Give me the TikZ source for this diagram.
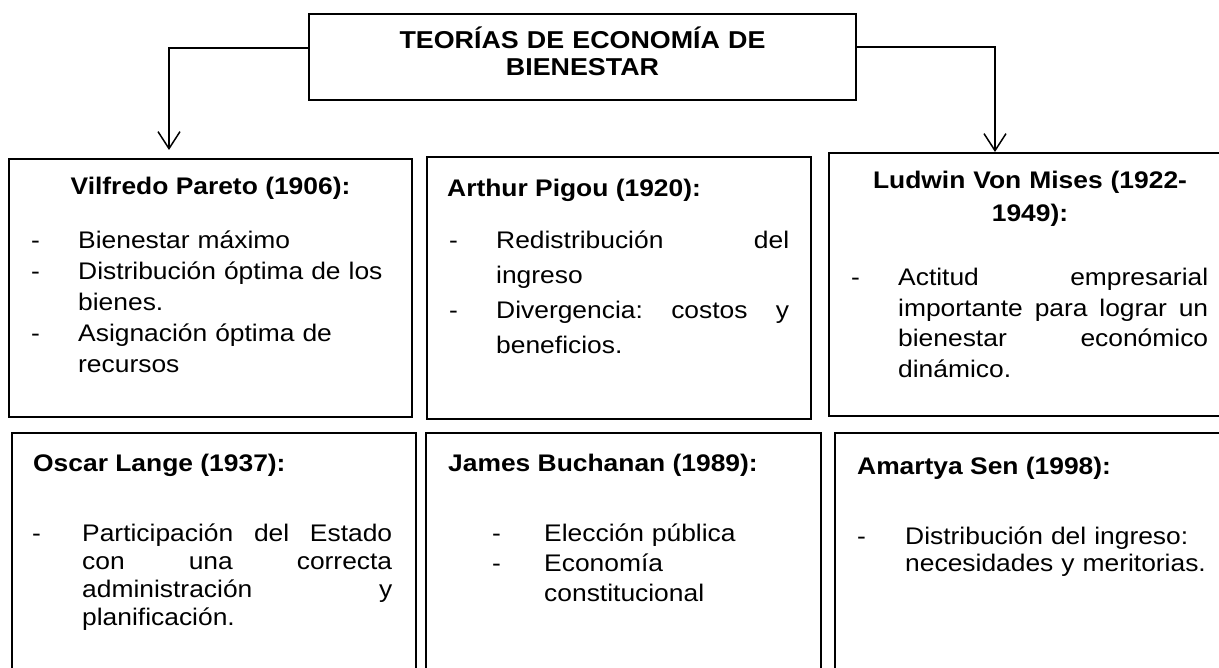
\documentclass[tikz,border=0pt]{standalone}
\usepackage{fontspec}
\setmainfont{Liberation Sans}[FakeStretch=1.1]
\usetikzlibrary{arrows.meta}
\begin{document}
\begin{tikzpicture}[x=1pt,y=-1pt,
  frame/.style={draw, line width=1.7pt, inner sep=0pt, rectangle},
  conn/.style={line width=1.5pt, -{Straight Barb[length=17pt,width=22pt,line width=1.5pt]}},
  head/.style={inner sep=0pt, font=\bfseries\fontsize{24}{33}\selectfont},
  body/.style={inner sep=0pt, anchor=base west, align=left},
  dashn/.style={inner sep=0pt, anchor=base west, font=\fontsize{24}{26}\selectfont}]
\useasboundingbox (0,0) rectangle (1219,668);
\clip (0,0) rectangle (1219,668);
% title
\node[frame, minimum width=547pt, minimum height=86pt] (title) at (582.5,57) {};
\node[inner sep=0pt, anchor=base, text width=520pt, align=center,
      font=\bfseries\fontsize{24.4}{27}\selectfont] (titletxt) at (582.5,49)
  {TEORÍAS DE ECONOMÍA DE\\BIENESTAR};
% boxes
\node[frame, minimum width=403pt, minimum height=258pt] (pareto) at (210.5,288) {};
\node[frame, minimum width=384pt, minimum height=262pt] (pigou) at (619,288) {};
\node[frame, minimum width=403pt, minimum height=263pt] (mises) at (1030.5,284.5) {};
\node[frame, minimum width=404pt, minimum height=267pt] (lange) at (214,566.5) {};
\node[frame, minimum width=395pt, minimum height=267pt] (buchanan) at (623.5,566.5) {};
\node[frame, minimum width=405pt, minimum height=267pt] (sen) at (1037.5,566.5) {};
% connectors
\coordinate (lt) at (169,150);
\coordinate (rt) at (995,152);
\draw[conn] ([yshift=9pt]title.west) -| (lt);
\draw[conn] ([yshift=10pt]title.east) -| (rt);
% Pareto
\node[head, anchor=base] (paretoh) at (210.5,195) {Vilfredo Pareto (1906):};
\node[dashn] (pd1) at (31,249) {-};
\node[dashn] (pd2) at (31,280) {-};
\node[dashn] (pd3) at (31,342) {-};
\node[body, text width=320pt, font=\fontsize{24}{31}\selectfont] (paretot) at (78,249)
  {Bienestar máximo\\Distribución óptima de los\\bienes.\\Asignación óptima de\\recursos};
% Pigou
\node[head, anchor=base west] (pigouh) at (447,197) {Arthur Pigou (1920):};
\node[dashn] (gd1) at (449,249) {-};
\node[dashn] (gd2) at (449,319) {-};
\node[body, text width=293pt, font=\fontsize{24}{35}\selectfont] (pigout) at (496,249)
  {Redistribución\hfill del\\ingreso\\Divergencia:\hfill costos\hfill y\\beneficios.};
% Mises
\node[head, anchor=base, text width=390pt, align=center] (misesh) at (1030,189) {Ludwin Von Mises (1922-\\1949):};
\node[dashn] (md1) at (851,286) {-};
\node[body, text width=310pt, font=\fontsize{24}{30.5}\selectfont] (misest) at (898,286)
  {Actitud\hfill empresarial\\importante\hfill para\hfill lograr\hfill un\\bienestar\hfill económico\\dinámico.};
% Lange
\node[head, anchor=base west] (langeh) at (33,471) {Oscar Lange (1937):};
\node[dashn] (ld1) at (32,541) {-};
\node[body, text width=310pt, font=\fontsize{24}{28}\selectfont] (langet) at (82,541)
  {Participación\hfill del\hfill Estado\\con\hfill una\hfill correcta\\administración\hfill y\\planificación.};
% Buchanan
\node[head, anchor=base west] (buchh) at (448,471) {James Buchanan (1989):};
\node[dashn] (bd1) at (492,541) {-};
\node[dashn] (bd2) at (492,571) {-};
\node[body, text width=260pt, font=\fontsize{24}{30}\selectfont] (bucht) at (544,541)
  {Elección pública\\Economía\\constitucional};
% Sen
\node[head, anchor=base west] (senh) at (857,475) {Amartya Sen (1998):};
\node[dashn] (sd1) at (857,544) {-};
\node[body, text width=320pt, font=\fontsize{24}{27}\selectfont] (sent) at (905,544)
  {Distribución del ingreso:\\necesidades y meritorias.};
\end{tikzpicture}
\end{document}
